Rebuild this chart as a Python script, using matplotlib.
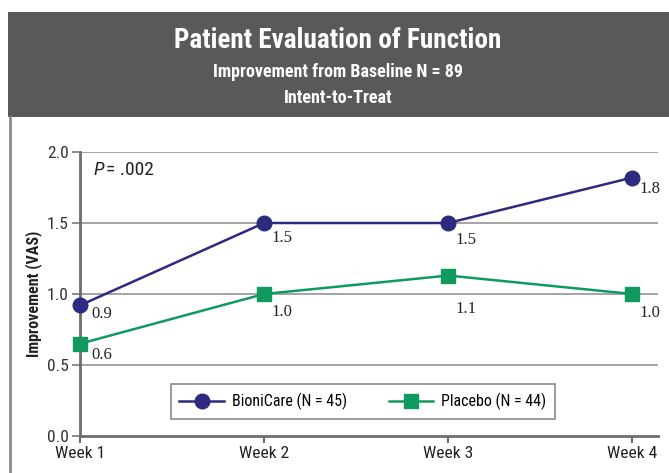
import matplotlib
matplotlib.use("Agg")
import matplotlib.pyplot as plt
from matplotlib import font_manager
from matplotlib.patches import Rectangle
from matplotlib.lines import Line2D

# ---- data ----
weeks = ["Week 1", "Week 2", "Week 3", "Week 4"]
bionicare = [0.92, 1.50, 1.50, 1.82]
placebo = [0.65, 1.00, 1.13, 1.00]
bionicare_labels = ["0.9", "1.5", "1.5", "1.8"]
placebo_labels = ["0.6", "1.0", "1.1", "1.0"]
yticks = [0.0, 0.5, 1.0, 1.5, 2.0]
title = "Patient Evaluation of Function"
subtitle1 = "Improvement from Baseline N = 89"
subtitle2 = "Intent-to-Treat"
ylabel = "Improvement (VAS)"
leg_names = ["BioniCare (N = 45)", "Placebo (N = 44)"]

names = {f.name for f in font_manager.fontManager.ttflist}
def pick(cands):
    for c in cands:
        if c in names:
            return c
    return "DejaVu Sans"
SANS = pick(["Liberation Sans Narrow", "Roboto Condensed", "DejaVu Sans Condensed", "Roboto", "Liberation Sans"])
SERIF = pick(["Liberation Serif", "DejaVu Serif"])

navy = "#2d2a7f"
green = "#109a5f"
header = "#58595b"

fig = plt.figure(figsize=(6.69, 4.73), dpi=100)
fig.patch.set_facecolor("white")

# header band and left border
fig.add_artist(Rectangle((8/669, 1-117/473), 1-8/669, 105/473, transform=fig.transFigure,
                         facecolor=header, edgecolor="none", zorder=0))
fig.add_artist(Line2D([10/669, 10/669], [0, 1-117/473], transform=fig.transFigure,
                      color="#8a8a8a", lw=2))
fig.text(338/669, 1-40/473, title, ha="center", va="center", color="white",
         fontsize=19.5, fontweight="bold", family=SANS)
fig.text(338/669, 1-72/473, subtitle1, ha="center", va="center", color="white",
         fontsize=13, fontweight="bold", family=SANS)
fig.text(338/669, 1-98/473, subtitle2, ha="center", va="center", color="white",
         fontsize=13, fontweight="bold", family=SANS)

ax = fig.add_axes([80/669, 1-436/473, (658-80)/669, (436-152)/473])
x = list(range(len(weeks)))
ax.set_xlim(0, 3.14)
ax.set_ylim(0, 2.0)

for yv in yticks[1:]:
    ax.axhline(yv, color="#8c8c8c", lw=1.1, zorder=1)

ax.plot(x, bionicare, color=navy, lw=1.8, marker="o", ms=10.5, mfc=navy, mec=navy,
        zorder=3, clip_on=False)
ax.plot(x, placebo, color=green, lw=1.8, marker="s", ms=10.5, mfc=green, mec=green,
        zorder=3, clip_on=False)

b_off = [(16, -6), (13, -11), (13, -12), (13, -8)]
p_off = [(16, -8), (13, -13), (13, -24), (13, -14)]
for i in x:
    ax.annotate(bionicare_labels[i], (x[i], bionicare[i]), xytext=b_off[i], textcoords="offset points",
                ha="center", va="center", fontsize=12, family=SERIF, color="#222222")
    ax.annotate(placebo_labels[i], (x[i], placebo[i]), xytext=p_off[i], textcoords="offset points",
                ha="center", va="center", fontsize=12, family=SERIF, color="#222222")

for s in ["top", "right"]:
    ax.spines[s].set_visible(False)
ax.spines["left"].set_color("#6d6d6d")
ax.spines["left"].set_linewidth(2)
ax.spines["bottom"].set_color("#6d6d6d")
ax.spines["bottom"].set_linewidth(2)

ax.set_yticks(yticks)
ax.set_yticklabels([f"{v:.1f}" for v in yticks], family=SANS, fontsize=12.5, color="#333333")
ax.set_xticks(x)
ax.set_xticklabels(weeks, family=SANS, fontsize=12.5, color="#222222")
ax.tick_params(axis="y", length=6, width=1.1, color="#6d6d6d", pad=2)
ax.tick_params(axis="x", length=5, width=1.5, color="#6d6d6d", pad=2)

ax.set_ylabel(ylabel, family=SANS, fontsize=11.5, fontweight="bold", color="#222222")
ax.yaxis.set_label_coords(-0.066, 0.5)

t = ax.text(0.075, 1.87, "P", style="italic", family=SANS, fontsize=14, va="center", color="#222222")
ax.annotate("= .002", xy=(1, 0.5), xycoords=t, xytext=(1.5, 0), textcoords="offset points",
            va="center", ha="left", family=SANS, fontsize=14, color="#222222")

handles = [Line2D([], [], color=navy, lw=1.8, marker="o", ms=10.5),
           Line2D([], [], color=green, lw=1.8, marker="s", ms=10.5)]
leg = ax.legend(handles, leg_names, loc="center", bbox_to_anchor=((363-80)/578, (436-401.5)/284),
                ncol=2, frameon=True, fancybox=False, edgecolor="#6d6d6d",
                prop={"family": SANS, "size": 11.5}, handlelength=2.8, columnspacing=2.6,
                borderpad=0.55, handletextpad=0.5)
leg.get_frame().set_linewidth(1.2)

fig.savefig("out.png", dpi=100)
